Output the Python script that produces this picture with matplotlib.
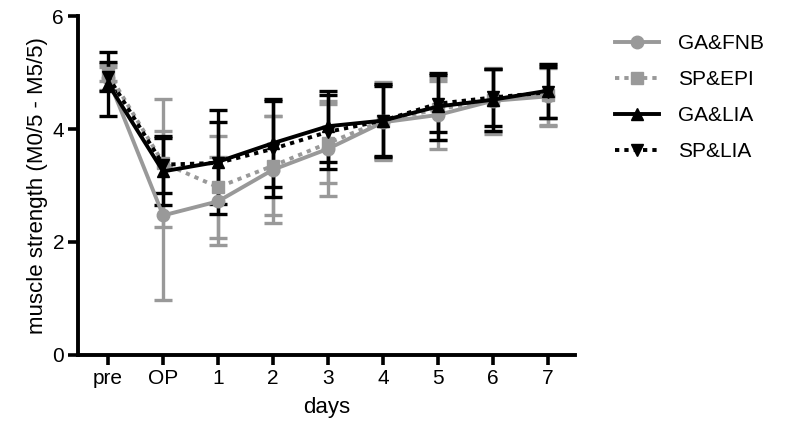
import matplotlib
matplotlib.use("Agg")
import matplotlib.pyplot as plt
import numpy as np

plt.rcParams['font.family'] = ['Liberation Sans', 'DejaVu Sans']

categories = ["pre", "OP", "1", "2", "3", "4", "5", "6", "7"]

ga_fnb = [4.90, 2.47, 2.72, 3.28, 3.65, 4.12, 4.25, 4.50, 4.58]
ga_fnb_err = [0.20, 1.50, 0.78, 0.95, 0.84, 0.67, 0.60, 0.58, 0.50]

sp_epi = [5.00, 3.40, 2.97, 3.35, 3.75, 4.15, 4.35, 4.52, 4.60]
sp_epi_err = [0.15, 1.13, 0.90, 0.88, 0.70, 0.68, 0.55, 0.55, 0.55]

ga_lia = [4.80, 3.25, 3.42, 3.75, 4.05, 4.15, 4.40, 4.52, 4.68]
ga_lia_err = [0.57, 0.60, 0.92, 0.78, 0.63, 0.65, 0.60, 0.55, 0.48]

sp_lia = [4.93, 3.37, 3.40, 3.65, 3.95, 4.15, 4.45, 4.56, 4.65]
sp_lia_err = [0.25, 0.50, 0.73, 0.85, 0.65, 0.62, 0.50, 0.50, 0.45]

labels = ["GA&FNB", "SP&EPI", "GA&LIA", "SP&LIA"]

fig = plt.figure(figsize=(7.87, 4.37), dpi=100)
ax = fig.add_axes([0.099, 0.188, 0.632, 0.775])

x = np.arange(len(categories))
gray = "#999999"
dot = (0, (1.1, 1.3))

specs = [
    (ga_fnb, ga_fnb_err, gray, "-", "o", labels[0]),
    (sp_epi, sp_epi_err, gray, dot, "s", labels[1]),
    (ga_lia, ga_lia_err, "black", "-", "^", labels[2]),
    (sp_lia, sp_lia_err, "black", dot, "v", labels[3]),
]
handles = []
for vals, err, col, ls, mk, lab in specs:
    eb = ax.errorbar(x, vals, yerr=err, color=col, ecolor=col, linestyle=ls,
                     linewidth=2.8, marker=mk, markersize=9, capsize=6.5,
                     capthick=2.4, elinewidth=2.4, label=lab)
    handles.append(eb)

ax.set_xlim(-0.55, 8.5)
ax.set_ylim(0, 6)
ax.set_yticks([0, 2, 4, 6])
ax.set_xticks(x)
ax.set_xticklabels(categories)

for s in ["top", "right"]:
    ax.spines[s].set_visible(False)
for s in ["left", "bottom"]:
    ax.spines[s].set_linewidth(2.8)
ax.tick_params(axis="both", direction="out", length=7, width=2.6, labelsize=15, pad=3)

ax.set_ylabel("muscle strength (M0/5 - M5/5)", fontsize=16, labelpad=3)
ax.set_xlabel("days", fontsize=16, labelpad=7)

leg_handles = [h.lines[0] for h in handles]
fig.legend(leg_handles, labels, loc="upper left", bbox_to_anchor=(0.758, 0.965),
           frameon=False, fontsize=15, handlelength=2.1, labelspacing=0.82,
           handletextpad=0.9)

fig.savefig("out.png", dpi=100)
